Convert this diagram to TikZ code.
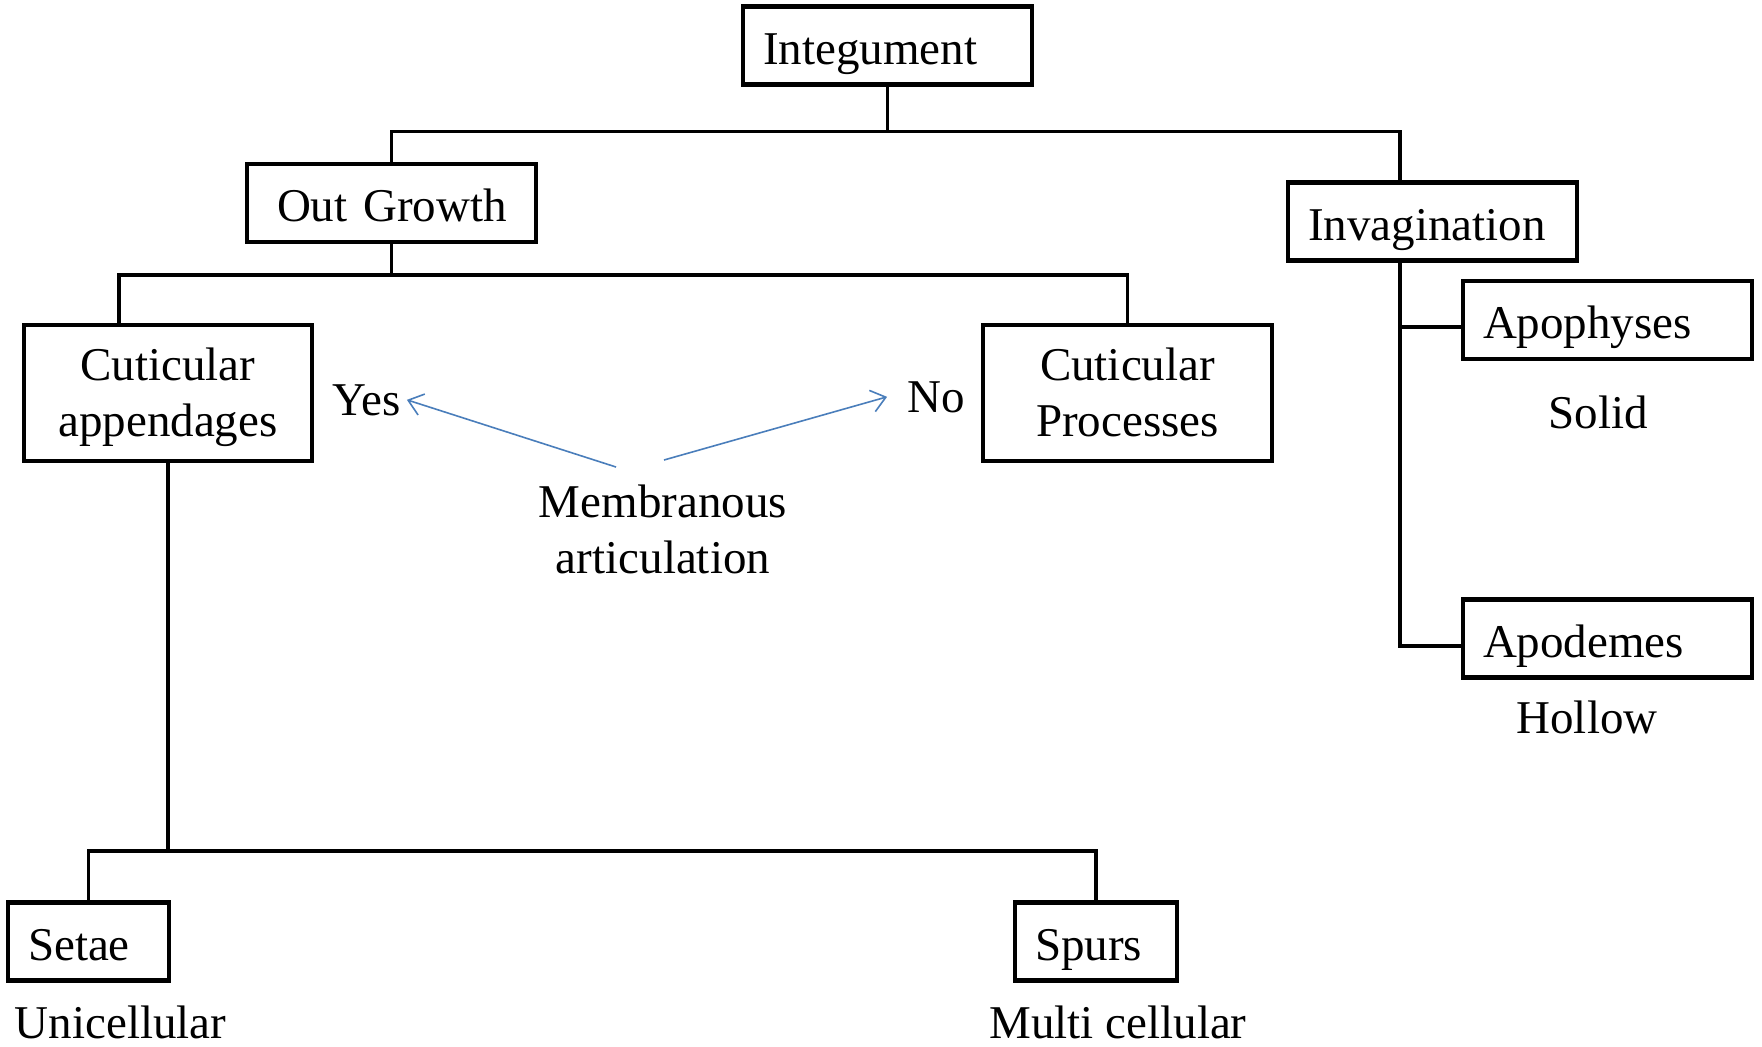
\documentclass[tikz,border=0pt]{standalone}
\usepackage{fontspec}
\setmainfont{Liberation Serif}
\usetikzlibrary{arrows.meta}
\definecolor{arrowblue}{RGB}{74,126,187}
\begin{document}
\begin{tikzpicture}[x=1pt,y=-1pt,
  txt/.style={font=\fontsize{47}{56}\selectfont},
  box/.style={txt, draw, line width=4.3pt, minimum height=78pt, inner ysep=0pt, inner xsep=20pt, align=left, text height=42pt, text depth=5pt},
  tallbox/.style={txt, draw, line width=4.3pt, minimum height=136pt, inner ysep=0pt, inner xsep=20pt, align=center, text height=40pt, text depth=66pt},
  lbl/.style={txt, inner sep=0pt, anchor=base},
  conn/.style={line width=3.8pt},
  barrow/.style={draw=arrowblue, line width=1.6pt, -{Straight Barb[length=14pt,width=22pt,line width=1.6pt]}}
]
\fill[white] (0,0) rectangle (1762,1047);

% boxes
\node[box, text width=249pt] (integ) at (887.5,45.5) {Integument};
\node[box, text width=249pt] (out) at (391.5,203) {\hspace*{10pt}Out Growth};
\node[box, text width=249pt] (inv) at (1432.5,221.5) {Invagination};
\node[tallbox, text width=248pt] (capp) at (168,393) {Cuticular\\appendages};
\node[tallbox, text width=249pt] (cproc) at (1127.5,393) {Cuticular\\Processes};
\node[box, text width=249pt] (apo) at (1607.5,320) {Apophyses};
\node[box, text width=249pt] (apod) at (1607.5,638.5) {Apodemes};
\node[box, text width=121pt] (setae) at (88.5,941.5) {Setae};
\node[box, text width=122pt] (spurs) at (1096,941.5) {Spurs};

% labels
\node[lbl, inner xsep=6pt] (yes) at (366.5,415) {Yes};
\node[lbl, inner xsep=20pt] (no) at (936,412) {No};
\node[lbl, align=center] (memb) at (663,573) {Membranous\\articulation};
\node[lbl] (solid) at (1598,428) {Solid};
\node[lbl] (hollow) at (1587,733) {Hollow};
\node[lbl] (uni) at (120.5,1038) {Unicellular};
\node[lbl] (multi) at (1118,1038) {Multi cellular};

% tree connectors
\coordinate (j1) at (887.5,131.5);
\draw[conn] (integ.south) -- (j1);
\draw[conn] (out.north) |- (j1) -| ([xshift=-32.5pt]inv.north);

\coordinate (j2) at (391.5,275);
\draw[conn] (out.south) -- (j2);
\draw[conn] ([xshift=-49pt]capp.north) |- (j2) -| (cproc.north);

\coordinate (j3) at (168,851);
\draw[conn] (capp.south) -- (j3);
\draw[conn] (setae.north) |- (j3) -| (spurs.north);

\draw[conn] ([xshift=-32.5pt]inv.south) |- ([yshift=-7.5pt]apod.west);
\draw[conn] ([xshift=-32.5pt,yshift=-7pt]inv.south |- apo.west) -- ([yshift=-7pt]apo.west);

% membranous articulation arrows
\coordinate (m1) at (616,467);
\coordinate (m2) at (664,460);
\draw[barrow] (m1) -- (yes.east);
\draw[barrow] (m2) -- (no.west);
\end{tikzpicture}
\end{document}
